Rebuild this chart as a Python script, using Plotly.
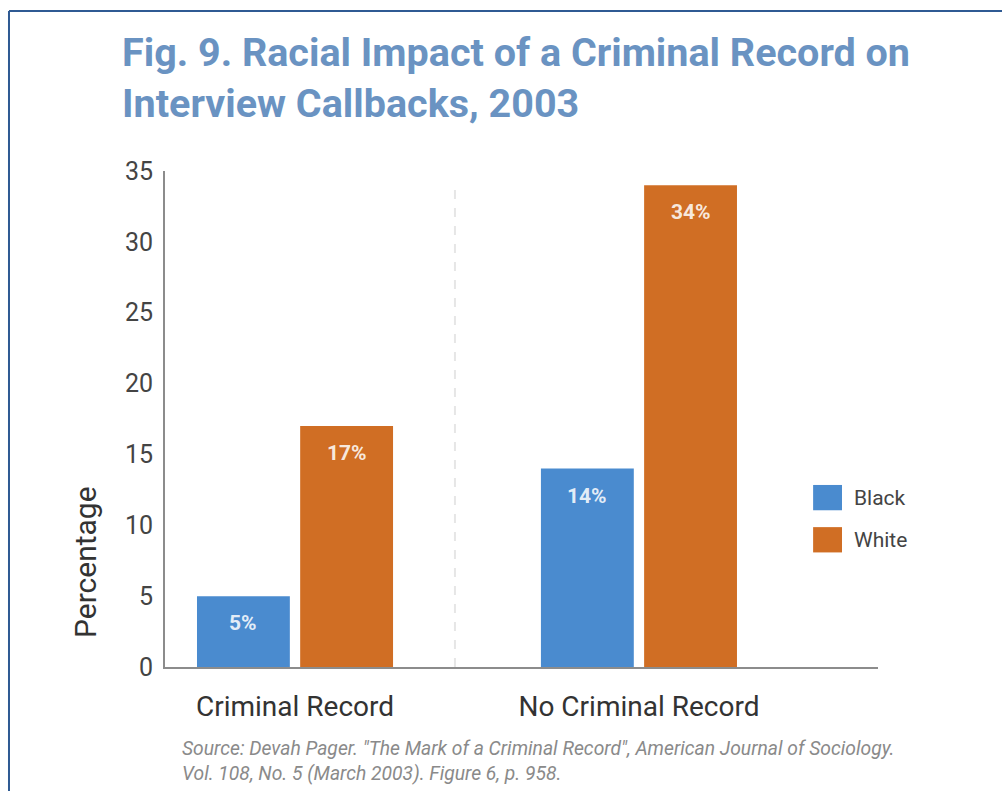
import plotly.graph_objects as go

categories = ["Criminal Record", "No Criminal Record"]
series_names = ["Black", "White"]
black_values = [5, 14]
white_values = [17, 34]
y_ticks = [0, 5, 10, 15, 20, 25, 30, 35]

colors = {"Black": "#4a8bcf", "White": "#d06e24"}
offsets = {"Black": -0.285, "White": 0.015}
bar_w = 0.27
series_vals = {"Black": black_values, "White": white_values}

xpos = list(range(len(categories)))

fig = go.Figure()
for name in series_names:
    fig.add_trace(go.Bar(
        x=xpos, y=series_vals[name], name=name,
        marker=dict(color=colors[name], line=dict(width=0)),
        offset=offsets[name], width=bar_w, showlegend=False,
    ))
    for xi, v in zip(xpos, series_vals[name]):
        fig.add_annotation(
            x=xi + offsets[name] + bar_w / 2, y=v, xref="x", yref="y",
            text="<b>%d%%</b>" % v, showarrow=False, yshift=-27,
            font=dict(family="Roboto", size=21, color="rgba(255,255,255,0.86)"),
        )

# manual legend
for i, name in enumerate(series_names):
    y0 = 0.367 - i * 0.085
    fig.add_shape(type="rect", xref="paper", yref="paper",
                  x0=0.909, x1=0.9495, y0=y0 - 0.051, y1=y0,
                  fillcolor=colors[name], line=dict(width=0))
    fig.add_annotation(xref="paper", yref="paper", x=0.9635, y=y0 - 0.0255,
                       xanchor="left", yanchor="middle", text=name, showarrow=False,
                       font=dict(family="Roboto", size=21, color="#444444"))

# divider
fig.add_shape(type="line", xref="x", yref="paper", x0=0.465, x1=0.465, y0=0, y1=0.98,
              line=dict(color="#e6e6e6", width=2, dash="dash"))

# frame lines
fig.add_shape(type="line", xref="paper", yref="paper", x0=-0.2188, x1=1.2, y0=1.3226, y1=1.3226,
              line=dict(color="#2f5a93", width=2))
fig.add_shape(type="line", xref="paper", yref="paper", x0=-0.2188, x1=-0.2188, y0=1.3226, y1=-0.3,
              line=dict(color="#2f5a93", width=2))

# title
fig.add_annotation(xref="paper", yref="paper", x=(120 - 165) / 713, y=1.29, xanchor="left", yanchor="top",
                   align="left", showarrow=False,
                   text="<b>Fig. 9. Racial Impact of a Criminal Record on<br>Interview Callbacks, 2003</b>",
                   font=dict(family="Roboto", size=39.5, color="#6a93c2"))

# y axis title
fig.add_annotation(xref="paper", yref="paper", x=-0.1122, y=(667 - 562) / 496,
                   xanchor="center", yanchor="middle", textangle=-90, showarrow=False,
                   text="Percentage", font=dict(family="Roboto", size=30, color="#333333"))

# source
fig.add_annotation(xref="paper", yref="paper", x=0.0211, y=-0.137, xanchor="left", yanchor="top",
                   align="left", showarrow=False,
                   text="<i>Source: Devah Pager. \"The Mark of a Criminal Record\", American Journal of Sociology.<br>"
                        "Vol. 108, No. 5 (March 2003). Figure 6, p. 958.</i>",
                   font=dict(family="Roboto", size=19.3, color="#8a8a8a"))

fig.update_layout(
    width=1002, height=791,
    margin=dict(l=165, r=124, t=171, b=124),
    paper_bgcolor="white", plot_bgcolor="white",
    xaxis=dict(range=[-0.378, 1.695], tickvals=xpos, ticktext=categories,
               showgrid=False, zeroline=False, showline=True, linecolor="#8c8c8c", linewidth=2,
               ticks="", ticklabelstandoff=13,
               tickfont=dict(family="Roboto", size=28, color="#333333")),
    yaxis=dict(range=[0, 35], tickvals=y_ticks, showgrid=False, zeroline=False,
               showline=True, linecolor="#8c8c8c", linewidth=2, ticks="", ticklabelstandoff=5,
               tickfont=dict(family="Roboto", size=25, color="#444444")),
)

fig.write_html("out.html")
